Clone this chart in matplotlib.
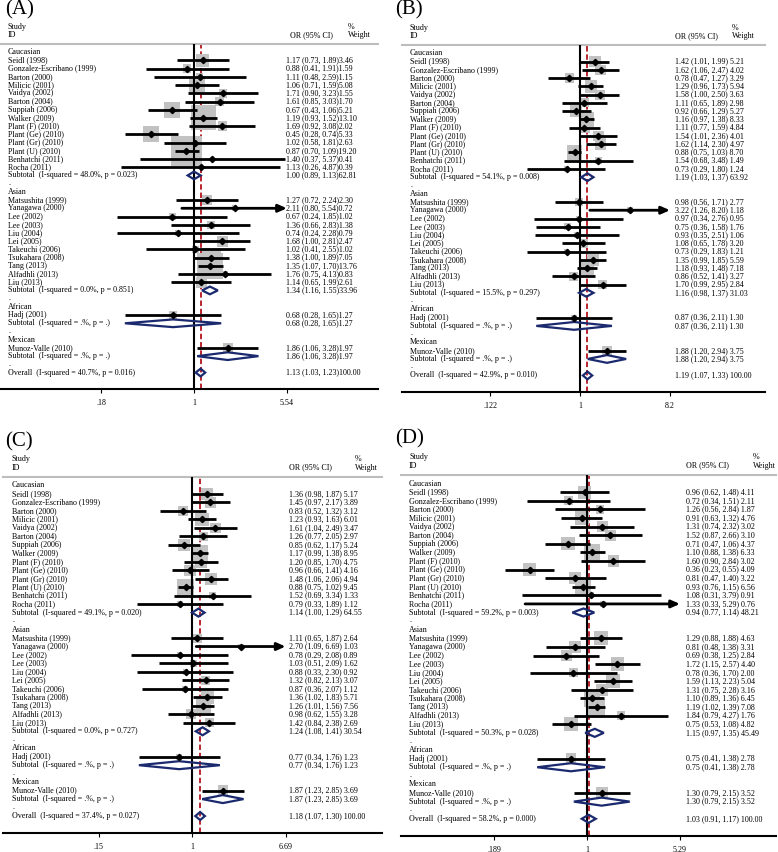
"""Four forest plots (A-D) of OR by ethnicity, Stata metan look"""

import numpy as np
import matplotlib
matplotlib.use("Agg")
import matplotlib.pyplot as plt
import matplotlib.transforms as mtransforms
from matplotlib.patches import Rectangle, Polygon

plt.rcParams["font.family"] = ["Liberation Serif", "DejaVu Serif"]

# ---- data -----------------------------------------------------------------
groups = ["Caucasian", "Asian", "African", "Mexican"]
group_sizes = [14, 11, 1, 1]
studies = ["Seidl (1998)", "Gonzalez-Escribano (1999)", "Barton (2000)", "Milicic (2001)",
           "Vaidya (2002)", "Barton (2004)", "Suppiah (2006)", "Walker (2009)",
           "Plant (F) (2010)", "Plant (Ge) (2010)", "Plant (Gr) (2010)", "Plant (U) (2010)",
           "Benhatchi (2011)", "Rocha (2011)",
           "Matsushita (1999)", "Yanagawa (2000)", "Lee (2002)", "Lee (2003)", "Liu (2004)",
           "Lei (2005)", "Takeuchi (2006)", "Tsukahara (2008)", "Tang (2013)",
           "Alfadhli (2013)", "Liu (2013)",
           "Hadj (2001)",
           "Munoz-Valle (2010)"]

# panel A
a_or = [1.17, 0.88, 1.11, 1.06, 1.71, 1.61, 0.67, 1.19, 1.69, 0.45, 1.02, 0.87, 1.40, 1.13,
        1.27, 2.11, 0.67, 1.36, 0.74, 1.68, 1.02, 1.38, 1.35, 1.76, 1.14, 0.68, 1.86]
a_lo = [0.73, 0.41, 0.48, 0.71, 0.90, 0.85, 0.43, 0.93, 0.92, 0.28, 0.58, 0.70, 0.37, 0.26,
        0.72, 0.80, 0.24, 0.66, 0.24, 1.00, 0.41, 1.00, 1.07, 0.75, 0.65, 0.28, 1.06]
a_hi = [1.89, 1.91, 2.59, 1.59, 3.23, 3.03, 1.06, 1.52, 3.08, 0.74, 1.81, 1.09, 5.37, 4.87,
        2.24, 5.54, 1.85, 2.83, 2.28, 2.81, 2.55, 1.89, 1.70, 4.13, 1.99, 1.65, 3.28]
a_wt = [3.46, 1.59, 1.15, 5.08, 1.55, 1.70, 5.21, 13.10, 2.02, 5.33, 2.63, 19.20, 0.41, 0.39,
        2.30, 0.72, 1.02, 1.38, 0.79, 2.47, 1.02, 7.05, 13.76, 0.83, 2.61, 1.27, 1.97]
a_sub_or = [1.00, 1.34, 0.68, 1.86]
a_sub_lo = [0.89, 1.16, 0.28, 1.06]
a_sub_hi = [1.13, 1.55, 1.65, 3.28]
a_sub_wt = [62.81, 33.96, 1.27, 1.97]
a_sub_het = ["48.0%, p = 0.023", "0.0%, p = 0.851", ".%, p = .", ".%, p = ."]
a_overall = [1.13, 1.03, 1.23, 100.00]
a_overall_het = "40.7%, p = 0.016"
a_ticks = [0.18, 1, 5.54]
a_ticklabels = [".18", "1", "5.54"]

# panel B
b_or = [1.42, 1.62, 0.78, 1.29, 1.58, 1.11, 0.92, 1.16, 1.11, 1.54, 1.62, 0.88, 1.54, 0.73,
        0.98, 3.22, 0.97, 0.75, 0.93, 1.08, 0.73, 1.35, 1.18, 0.86, 1.70, 0.87, 1.88]
b_lo = [1.01, 1.06, 0.47, 0.96, 1.00, 0.65, 0.66, 0.97, 0.77, 1.01, 1.14, 0.75, 0.68, 0.29,
        0.56, 1.26, 0.34, 0.36, 0.35, 0.65, 0.29, 0.99, 0.93, 0.52, 0.99, 0.36, 1.20]
b_hi = [1.99, 2.47, 1.27, 1.73, 2.50, 1.89, 1.29, 1.38, 1.59, 2.36, 2.30, 1.03, 3.48, 1.80,
        1.71, 8.20, 2.76, 1.58, 2.51, 1.78, 1.83, 1.85, 1.48, 1.41, 2.95, 2.11, 2.94]
b_wt = [5.21, 4.02, 3.29, 5.94, 3.63, 2.98, 5.27, 8.33, 4.84, 4.01, 4.97, 8.70, 1.49, 1.24,
        2.77, 1.18, 0.95, 1.76, 1.06, 3.20, 1.21, 5.59, 7.18, 3.27, 2.84, 1.30, 3.75]
b_sub_or = [1.19, 1.16, 0.87, 1.88]
b_sub_lo = [1.03, 0.98, 0.36, 1.20]
b_sub_hi = [1.37, 1.37, 2.11, 2.94]
b_sub_wt = [63.92, 31.03, 1.30, 3.75]
b_sub_het = ["54.1%, p = 0.008", "15.5%, p = 0.297", ".%, p = .", ".%, p = ."]
b_overall = [1.19, 1.07, 1.33, 100.00]
b_overall_het = "42.9%, p = 0.010"
b_ticks = [0.122, 1, 8.2]
b_ticklabels = [".122", "1", "8.2"]

# panel C
c_or = [1.36, 1.45, 0.83, 1.23, 1.61, 1.26, 0.85, 1.17, 1.20, 0.96, 1.48, 0.88, 1.52, 0.79,
        1.11, 2.70, 0.78, 1.03, 0.88, 1.32, 0.87, 1.36, 1.26, 0.98, 1.42, 0.77, 1.87]
c_lo = [0.98, 0.97, 0.52, 0.93, 1.04, 0.77, 0.62, 0.99, 0.85, 0.66, 1.06, 0.75, 0.69, 0.33,
        0.65, 1.09, 0.29, 0.51, 0.33, 0.82, 0.36, 1.02, 1.01, 0.62, 0.84, 0.34, 1.23]
c_hi = [1.87, 2.17, 1.32, 1.63, 2.49, 2.05, 1.17, 1.38, 1.70, 1.41, 2.06, 1.02, 3.34, 1.89,
        1.87, 6.69, 2.08, 2.09, 2.30, 2.13, 2.07, 1.83, 1.56, 1.55, 2.38, 1.76, 2.85]
c_wt = [5.17, 3.89, 3.12, 6.01, 3.47, 2.97, 5.24, 8.95, 4.75, 4.16, 4.94, 9.45, 1.33, 1.12,
        2.64, 1.03, 0.89, 1.62, 0.92, 3.07, 1.12, 5.71, 7.56, 3.28, 2.69, 1.23, 3.69]
c_sub_or = [1.14, 1.24, 0.77, 1.87]
c_sub_lo = [1.00, 1.08, 0.34, 1.23]
c_sub_hi = [1.29, 1.41, 1.76, 2.85]
c_sub_wt = [64.55, 30.54, 1.23, 3.69]
c_sub_het = ["49.1%, p = 0.020", "0.0%, p = 0.727", ".%, p = .", ".%, p = ."]
c_overall = [1.18, 1.07, 1.30, 100.00]
c_overall_het = "37.4%, p = 0.027"
c_ticks = [0.15, 1, 6.69]
c_ticklabels = [".15", "1", "6.69"]

# panel D
d_or = [0.96, 0.72, 1.26, 0.91, 1.31, 1.52, 0.71, 1.10, 1.60, 0.36, 0.81, 0.93, 1.08, 1.33,
        1.29, 0.81, 0.69, 1.72, 0.78, 1.59, 1.31, 1.10, 1.19, 1.84, 0.75, 0.75, 1.30]
d_lo = [0.62, 0.34, 0.56, 0.63, 0.74, 0.87, 0.47, 0.88, 0.90, 0.23, 0.47, 0.76, 0.31, 0.33,
        0.88, 0.48, 0.38, 1.15, 0.36, 1.13, 0.75, 0.89, 1.02, 0.79, 0.53, 0.41, 0.79]
d_hi = [1.48, 1.51, 2.84, 1.32, 2.32, 2.66, 1.06, 1.38, 2.84, 0.55, 1.40, 1.15, 3.79, 5.29,
        1.88, 1.38, 1.25, 2.57, 1.70, 2.23, 2.28, 1.36, 1.39, 4.27, 1.08, 1.38, 2.15]
d_wt = [4.11, 2.11, 1.87, 4.76, 3.02, 3.10, 4.37, 6.33, 3.02, 4.09, 3.22, 6.56, 0.91, 0.76,
        4.63, 3.31, 2.84, 4.40, 2.00, 5.04, 3.16, 6.45, 7.08, 1.76, 4.82, 2.78, 3.52]
d_sub_or = [0.94, 1.15, 0.75, 1.30]
d_sub_lo = [0.77, 0.97, 0.41, 0.79]
d_sub_hi = [1.14, 1.35, 1.38, 2.15]
d_sub_wt = [48.21, 45.49, 2.78, 3.52]
d_sub_het = ["59.2%, p = 0.003", "50.3%, p = 0.028", ".%, p = .", ".%, p = ."]
d_overall = [1.03, 0.91, 1.17, 100.00]
d_overall_het = "58.2%, p = 0.000"
d_ticks = [0.189, 1, 5.29]
d_ticklabels = [".189", "1", "5.29"]

# ---- drawing --------------------------------------------------------------
W, H = 778, 852
FS = 5.8
GREY = "#c2c2c2"
NAVY = "#1b2a6e"
RED = "#b3141e"

fig = plt.figure(figsize=(W / 100, H / 100), dpi=100)


def draw_panel(tag, rect, tick_px, ticks, ticklabels, est, lo, hi, wt,
               s_or, s_lo, s_hi, s_wt, s_het, overall, overall_het,
               sep, lab_x, or_x, orh_x, wt_x, tag_x, box_scale):
    left, top, right, bottom = rect
    ax = fig.add_axes([left / W, 1 - bottom / H, (right - left) / W, (bottom - top) / H])
    ax.set_xscale("log")
    k = (tick_px[2] - tick_px[0]) / (np.log(ticks[2]) - np.log(ticks[0]))
    ax.set_xlim(np.exp((left - tick_px[1]) / k), np.exp((right - tick_px[1]) / k))
    ax.set_ylim(41, -1)
    row_px = (bottom - top) / 42.0
    tr = mtransforms.blended_transform_factory(fig.transFigure, ax.transData)

    def txt(px, row, s, **kw):
        ax.text(px / W, row, s, transform=tr, fontsize=FS, va="center", ha="left", **kw)

    def fmt(e, l, h, w):
        return "%.2f (%.2f, %.2f)%s%.2f" % (e, l, h, sep, w)

    # header
    ax.text(tag_x / W, -5.2, "(%s)" % tag, transform=tr, fontsize=15, va="center")
    txt(lab_x, -3.1, "Study")
    txt(lab_x, -2.1, "ID")
    txt(orh_x, -2.1, "OR (95% CI)")
    txt(wt_x, -3.1, "%")
    txt(wt_x, -2.1, "Weight")

    ax.axvline(1, color="k", lw=1.5, zorder=3)
    ax.axvline(overall[0], color=RED, lw=1.3, ls=(0, (3, 1.6)), zorder=1)

    def diamond(row, e, l, h):
        ax.add_patch(Polygon([(l, row), (e, row - 0.47), (h, row), (e, row + 0.47)],
                             closed=True, fill=False, edgecolor=NAVY, lw=1.6, zorder=4))

    row = 0
    i = 0
    for g, n in enumerate(group_sizes):
        txt(lab_x, row, groups[g])
        row += 1
        for _ in range(n):
            side = box_scale * np.sqrt(wt[i])
            hw = side / 2 / k
            hh = side / 2 / row_px
            x0, x1 = est[i] * np.exp(-hw), est[i] * np.exp(hw)
            ax.add_patch(Rectangle((x0, row - hh), x1 - x0, 2 * hh,
                                   facecolor=GREY, edgecolor="none", zorder=2))
            if hi[i] >= ticks[2] - 1e-9:
                ax.annotate("", xy=(hi[i], row), xytext=(lo[i], row),
                            arrowprops=dict(arrowstyle="-|>,head_length=0.5,head_width=0.22",
                                            color="k", lw=2, mutation_scale=10,
                                            shrinkA=0, shrinkB=0), zorder=4)
            else:
                ax.plot([lo[i], hi[i]], [row, row], color="k", lw=2,
                        solid_capstyle="butt", zorder=4)
            ax.plot(est[i], row, marker="D", color="k", ms=3.2, zorder=5)
            txt(lab_x, row, studies[i])
            txt(or_x, row, fmt(est[i], lo[i], hi[i], wt[i]))
            row += 1
            i += 1
        diamond(row, s_or[g], s_lo[g], s_hi[g])
        txt(lab_x, row, "Subtotal  (I-squared = %s)" % s_het[g])
        txt(or_x, row, fmt(s_or[g], s_lo[g], s_hi[g], s_wt[g]))
        row += 1
        txt(lab_x, row - 0.1, ".")
        row += 1
    diamond(row, overall[0], overall[1], overall[2])
    txt(lab_x, row, "Overall  (I-squared = %s)" % overall_het)
    txt(or_x, row, fmt(*overall))

    ax.set_xticks(ticks)
    ax.set_xticklabels(ticklabels)
    ax.minorticks_off()
    ax.set_yticks([])
    ax.tick_params(axis="x", direction="out", length=3, width=0.8, labelsize=FS, pad=4)
    for s in ("left", "right"):
        ax.spines[s].set_visible(False)
    ax.spines["top"].set_color("#bdbdbd")
    ax.spines["top"].set_linewidth(1.5)
    ax.spines["bottom"].set_linewidth(1.5)
    ax.set_facecolor("none")
    return ax


draw_panel("A", (0, 44, 378, 389), (102, 194, 288), a_ticks, a_ticklabels,
           a_or, a_lo, a_hi, a_wt, a_sub_or, a_sub_lo, a_sub_hi, a_sub_wt, a_sub_het,
           a_overall, a_overall_het, "", 8, 286, 290, 348, 5, 6.9)
draw_panel("B", (402, 45, 765, 392), (490, 580, 670), b_ticks, b_ticklabels,
           b_or, b_lo, b_hi, b_wt, b_sub_or, b_sub_lo, b_sub_hi, b_sub_wt, b_sub_het,
           b_overall, b_overall_het, " ", 410, 675, 675, 732, 395, 5.2)
draw_panel("C", (3, 477, 382, 833), (98, 192, 285), c_ticks, c_ticklabels,
           c_or, c_lo, c_hi, c_wt, c_sub_or, c_sub_lo, c_sub_hi, c_sub_wt, c_sub_het,
           c_overall, c_overall_het, " ", 12, 289, 289, 355, 5, 5.5)
draw_panel("D", (401, 475, 776, 836), (494, 587, 680), d_ticks, d_ticklabels,
           d_or, d_lo, d_hi, d_wt, d_sub_or, d_sub_lo, d_sub_hi, d_sub_wt, d_sub_het,
           d_overall, d_overall_het, " ", 409, 686, 686, 753, 395, 6.4)

fig.savefig("out.png", dpi=100)
